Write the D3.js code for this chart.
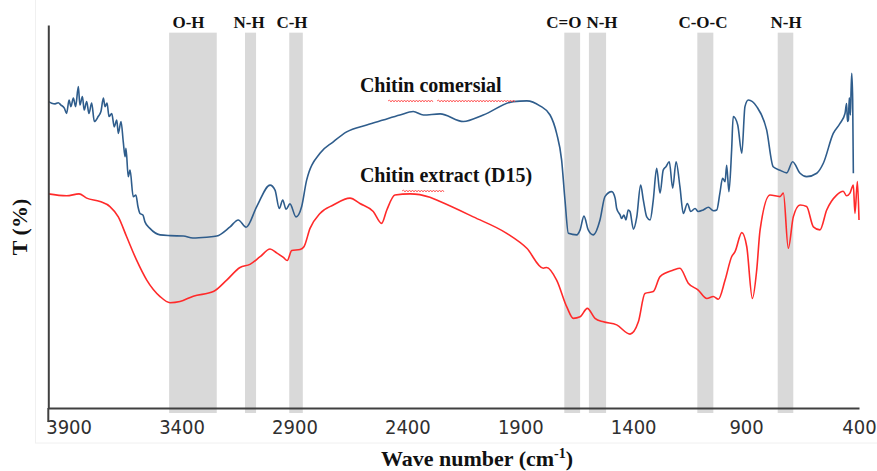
<!DOCTYPE html>
<html>
<head>
<meta charset="utf-8">
<script src="https://cdn.jsdelivr.net/npm/d3@7/dist/d3.min.js"></script>
<style>
  html, body { margin: 0; padding: 0; background: #ffffff; }
  svg { display: block; }
</style>
</head>
<body>
<svg id="chart" width="877" height="471"></svg>
<script>
// ---------------- DATA ----------------
const xTickValues = [3900, 3400, 2900, 2400, 1900, 1400, 900, 400];

// Chitin comersial (blue)
const waveBlue = [3988, 3975, 3960, 3946, 3934, 3919, 3909, 3898, 3890, 3879, 3869, 3857, 3850, 3839, 3831, 3820, 3810, 3798,
  3786, 3769, 3757, 3746, 3739, 3730, 3721, 3709, 3698, 3687, 3680, 3668, 3658, 3650, 3646, 3636, 3628, 3614, 3602, 3593, 3584,
  3571, 3562, 3540, 3495, 3450, 3392, 3350, 3289, 3244, 3185, 3149, 3114, 3067, 3008, 2986, 2967, 2952, 2937, 2920, 2893, 2868,
  2846, 2787, 2728, 2669, 2580, 2507, 2433, 2374, 2329, 2255, 2152, 2064, 1931, 1871, 1813, 1768, 1739, 1717, 1702, 1687, 1650,
  1635, 1618, 1599, 1577, 1547, 1525, 1495, 1480, 1473, 1458, 1451, 1441, 1432, 1422, 1414, 1399, 1384, 1367, 1355, 1340, 1325,
  1311, 1296, 1281, 1267, 1255, 1240, 1225, 1210, 1193, 1178, 1160, 1145, 1126, 1112, 1090, 1067, 1045, 1030, 1016, 1004, 993,
  986, 976, 964, 957, 937, 919, 905, 890, 853, 809, 780, 750, 720, 694, 661, 632, 587, 558, 514, 484, 462, 455, 451, 447, 443,
  438, 435, 432, 428, 425];
const tBlue = [80.0, 79.6, 79.4, 79.7, 79.1, 78.3, 76.9, 80.4, 78.7, 80.9, 78.7, 83.9, 79.1, 81.3, 77.8, 80.0, 76.9, 79.6,
  74.8, 76.1, 77.4, 80.9, 78.7, 79.6, 76.1, 76.9, 73.4, 75.2, 71.7, 74.8, 69.5, 65.6, 67.8, 60.4, 62.1, 55.2, 55.6, 52.6, 50.8,
  50.4, 48.6, 46.9, 45.2, 45.0, 44.9, 44.4, 44.6, 44.9, 47.3, 49.1, 47.2, 52.6, 58.2, 56.9, 52.1, 54.3, 51.9, 53.3, 49.9, 52.6,
  59.5, 66.5, 69.5, 72.1, 73.9, 75.2, 76.5, 77.4, 76.5, 76.8, 74.8, 76.5, 80.0, 80.2, 78.9, 76.5, 71.7, 64.8, 54.3, 45.6, 45.2,
  46.5, 50.1, 46.5, 45.2, 49.1, 55.2, 56.5, 54.8, 52.1, 50.4, 49.5, 50.4, 49.1, 51.7, 51.3, 46.7, 49.9, 58.2, 54.3, 49.9, 49.1,
  54.3, 62.6, 56.1, 62.1, 63.0, 64.3, 57.4, 64.3, 57.8, 50.8, 53.4, 51.3, 52.1, 51.3, 51.7, 52.4, 51.5, 51.7, 56.1, 60.0, 59.1,
  63.4, 56.5, 67.4, 76.1, 73.9, 66.5, 78.7, 80.4, 78.7, 72.6, 63.0, 62.1, 61.4, 64.3, 61.3, 60.4, 61.3, 63.9, 71.7, 74.3, 76.9,
  79.5, 74.8, 75.2, 81.0, 76.5, 83.0, 87.4, 80.4, 61.3];

// Chitin extract (D15) (red)
const waveRed = [3990, 3909, 3854, 3820, 3761, 3717, 3680, 3643, 3599, 3554, 3495, 3451, 3407, 3348, 3259, 3200, 3141, 3097, 3052,
  3008, 2979, 2949, 2932, 2912, 2875, 2858, 2831, 2787, 2728, 2654, 2610, 2551, 2514, 2491, 2455, 2388, 2300, 2255, 2108, 1960,
  1871, 1798, 1783, 1739, 1694, 1665, 1635, 1603, 1569, 1532, 1473, 1414, 1377, 1348, 1311, 1281, 1222, 1193, 1156, 1112, 1074,
  1045, 1023, 993, 964, 949, 919, 897, 872, 853, 838, 794, 750, 735, 713, 691, 661, 632, 602, 573, 543, 499, 470, 455, 440, 425,
  418, 407, 400];
const tRed = [55.9, 55.4, 55.9, 54.8, 53.9, 52.6, 49.9, 44.7, 38.6, 33.4, 29.1, 27.5, 27.8, 29.2, 30.4, 33.4, 36.7, 37.5, 39.5,
  41.5, 40.5, 39.3, 38.5, 41.1, 41.4, 42.1, 46.9, 50.8, 53.0, 54.8, 53.4, 51.3, 48.2, 51.7, 55.6, 55.9, 55.0, 53.9, 49.9, 45.6,
  41.7, 36.5, 36.7, 33.4, 26.4, 23.4, 23.8, 26.0, 23.4, 22.5, 21.7, 19.3, 22.5, 29.9, 30.4, 34.3, 36.0, 36.5, 32.6, 30.8, 28.6,
  29.1, 28.4, 33.4, 39.5, 40.8, 45.8, 42.1, 28.6, 36.0, 46.5, 55.6, 55.2, 56.1, 41.7, 49.9, 53.0, 52.6, 47.3, 46.5, 51.7, 55.6,
  56.6, 55.4, 56.1, 58.2, 50.8, 59.1, 49.1];

// Shaded band regions (wave numbers)
const bandStart = [3455, 3119, 2923, 1705, 1596, 1116, 760];
const bandEnd   = [3244, 3070, 2863, 1635, 1520, 1045, 691];
const bandLabels = ["O-H", "N-H", "C-H", "C=O", "N-H", "C-O-C", "N-H"];
const bandLabelWave = [3369, 3101, 2911, 1707, 1538, 1091, 723];

const seriesNames = ["Chitin comersial", "Chitin extract (D15)"];
const seriesLabelWave = [2610, 2610];
const seriesLabelT = [82.6, 59.1];

// ---------------- DRAW ----------------
const svg = d3.select("#chart");

const x = d3.scaleLinear().domain([3990, 400]).range([48.3, 859]);
const y = d3.scaleLinear().domain([0, 100]).range([408, 25]);

// faint chart-area border
svg.append("rect")
  .attr("x", 35.5).attr("y", -5).attr("width", 900).attr("height", 448)
  .attr("fill", "none").attr("stroke", "#f0f0f0").attr("stroke-width", 1);

// bands
const bandData = bandStart.map((s, i) => ({ s, e: bandEnd[i] }));
svg.append("g").selectAll("rect").data(bandData).join("rect")
  .attr("x", d => x(d.s))
  .attr("width", d => x(d.e) - x(d.s))
  .attr("y", y(98))
  .attr("height", y(0) + 5 - y(98))
  .attr("fill", "#d9d9d9");

// band labels
svg.append("g").selectAll("text").data(bandLabels).join("text")
  .attr("x", (d, i) => x(bandLabelWave[i]))
  .attr("y", 28)
  .attr("text-anchor", "middle")
  .attr("font-family", "'Liberation Serif', 'Times New Roman', serif")
  .attr("font-weight", "bold")
  .attr("font-size", 17)
  .attr("fill", "#111")
  .text(d => d);

// lines
const line = d3.line().x(d => x(d[0])).y(d => y(d[1])).curve(d3.curveMonotoneX);
const blueData = waveBlue.map((w, i) => [w, tBlue[i]]);
const redData = waveRed.map((w, i) => [w, tRed[i]]);

svg.append("path").datum(redData)
  .attr("d", line).attr("fill", "none")
  .attr("stroke", "#ff2a2a").attr("stroke-width", 1.6).attr("stroke-linejoin", "round");
svg.append("path").datum(blueData)
  .attr("d", line).attr("fill", "none")
  .attr("stroke", "#2f5d8c").attr("stroke-width", 1.6).attr("stroke-linejoin", "round");

// x axis
const xAxis = d3.axisBottom(x).tickValues(xTickValues).tickSize(0).tickPadding(12).tickFormat(d3.format("d"));
const gx = svg.append("g").attr("transform", `translate(0,${y(0)})`).call(xAxis);
gx.select(".domain").attr("stroke", "#404040").attr("stroke-width", 2);
gx.selectAll("text")
  .attr("font-family", "'Liberation Sans Narrow', 'DejaVu Sans Condensed', 'Liberation Sans', sans-serif")
  .attr("font-size", 20)
  .attr("fill", "#303030");

// y axis
const yAxis = d3.axisLeft(y).tickValues([]).tickSizeOuter(0);
const gy = svg.append("g").attr("transform", `translate(${x(3990)},0)`).call(yAxis);
gy.select(".domain").attr("stroke", "#404040").attr("stroke-width", 2);
svg.append("line")
  .attr("x1", x(3990)).attr("x2", x(3990))
  .attr("y1", y(0)).attr("y2", y(0) + 14)
  .attr("stroke", "#404040").attr("stroke-width", 2);

// axis titles
const xt = svg.append("text")
  .attr("x", 477).attr("y", 466)
  .attr("text-anchor", "middle")
  .attr("font-family", "'Liberation Serif', 'Times New Roman', serif")
  .attr("font-weight", "bold").attr("font-size", 22).attr("fill", "#111");
xt.append("tspan").text("Wave number (cm");
xt.append("tspan").attr("font-size", 14).attr("dy", -8).text("-1");
xt.append("tspan").attr("dy", 8).text(")");

svg.append("text")
  .attr("transform", "translate(27,227) rotate(-90)")
  .attr("text-anchor", "middle")
  .attr("font-family", "'Liberation Serif', 'Times New Roman', serif")
  .attr("font-weight", "bold").attr("font-size", 22).attr("fill", "#111")
  .text("T (%)");

// series labels
svg.append("g").selectAll("text").data(seriesNames).join("text")
  .attr("x", (d, i) => x(seriesLabelWave[i]))
  .attr("y", (d, i) => y(seriesLabelT[i]))
  .attr("font-family", "'Liberation Serif', 'Times New Roman', serif")
  .attr("font-weight", "bold").attr("font-size", 20).attr("fill", "#111")
  .text(d => d);

// red spell-check squiggles
function squiggle(x0, x1, yy) {
  let p = `M${x0},${yy}`;
  let up = true;
  for (let xx = x0 + 1.5; xx <= x1; xx += 1.5) {
    p += `L${xx},${yy + (up ? -1 : 1)}`;
    up = !up;
  }
  return p;
}
const squig = [[388, 433, 101], [437, 515, 101], [402, 445, 191]];
svg.append("g").selectAll("path").data(squig).join("path")
  .attr("d", d => squiggle(d[0], d[1], d[2]))
  .attr("fill", "none").attr("stroke", "#ff4040").attr("stroke-width", 0.8);
</script>
</body>
</html>
